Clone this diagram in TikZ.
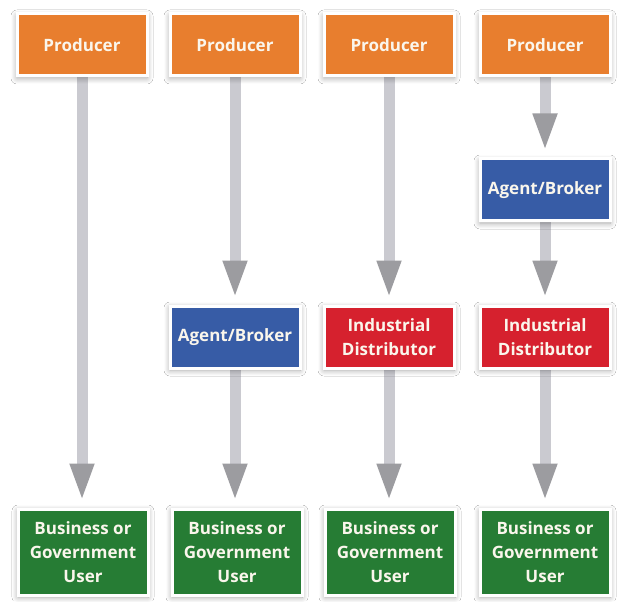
\documentclass[tikz,border=0pt]{standalone}
\usepackage{fontspec}
\setmainfont{Open Sans}
\usetikzlibrary{arrows.meta,shadows.blur,backgrounds}
\definecolor{cOrange}{RGB}{232,126,46}
\definecolor{cBlue}{RGB}{55,92,166}
\definecolor{cRed}{RGB}{214,33,46}
\definecolor{cGreen}{RGB}{38,124,52}
\definecolor{cText}{RGB}{250,246,236}
\definecolor{cShaft}{RGB}{202,202,208}
\definecolor{cHead}{RGB}{156,156,160}
\tikzset{
  box/.style={draw=white, line width=3pt, text=cText, align=center,
    font=\fontsize{17}{24}\selectfont\bfseries, minimum width=130pt,
    minimum height=62pt, inner sep=0pt,
    blur shadow={shadow xshift=0pt, shadow yshift=-2pt, shadow blur radius=6pt, shadow blur steps=12, shadow opacity=35}},
  prod/.style={box, fill=cOrange},
  agent/.style={box, fill=cBlue},
  dist/.style={box, fill=cRed},
  user/.style={box, fill=cGreen, minimum height=86pt},
  flow/.style={draw=cShaft, line width=11pt,
    -{Triangle[width=22pt 0,length=38pt 0,color=cHead]}, shorten >=6pt}
}
\begin{document}
\begin{tikzpicture}[x=1pt,y=-1pt]
\useasboundingbox (0,0) rectangle (617,601);
\node[prod] (p1) at (82,45) {Producer};
\node[prod] (p2) at (235,45) {Producer};
\node[prod] (p3) at (389,45) {Producer};
\node[prod] (p4) at (545,45) {Producer};
\node[agent] (a4) at (545,190) {Agent/Broker};
\node[agent] (a2) at (235,337) {Agent/Broker};
\node[dist] (d3) at (389,337) {Industrial\\Distributor};
\node[dist] (d4) at (545,337) {Industrial\\Distributor};
\node[user] (u1) at (83,552) {Business or\\Government\\User};
\node[user] (u2) at (237,552) {Business or\\Government\\User};
\node[user] (u3) at (390,552) {Business or\\Government\\User};
\node[user] (u4) at (545,552) {Business or\\Government\\User};
\begin{scope}[on background layer]
\fill[white] (0,0) rectangle (617,601);
\draw[flow] (p1) -- (u1.north -| p1);
\draw[flow] (p2) -- (a2);
\draw[flow] (a2) -- (u2.north -| a2);
\draw[flow] (p3) -- (d3);
\draw[flow] (d3) -- (u3.north -| d3);
\draw[flow] (p4) -- (a4);
\draw[flow] (a4) -- (d4);
\draw[flow] (d4) -- (u4);
\end{scope}
\end{tikzpicture}
\end{document}
